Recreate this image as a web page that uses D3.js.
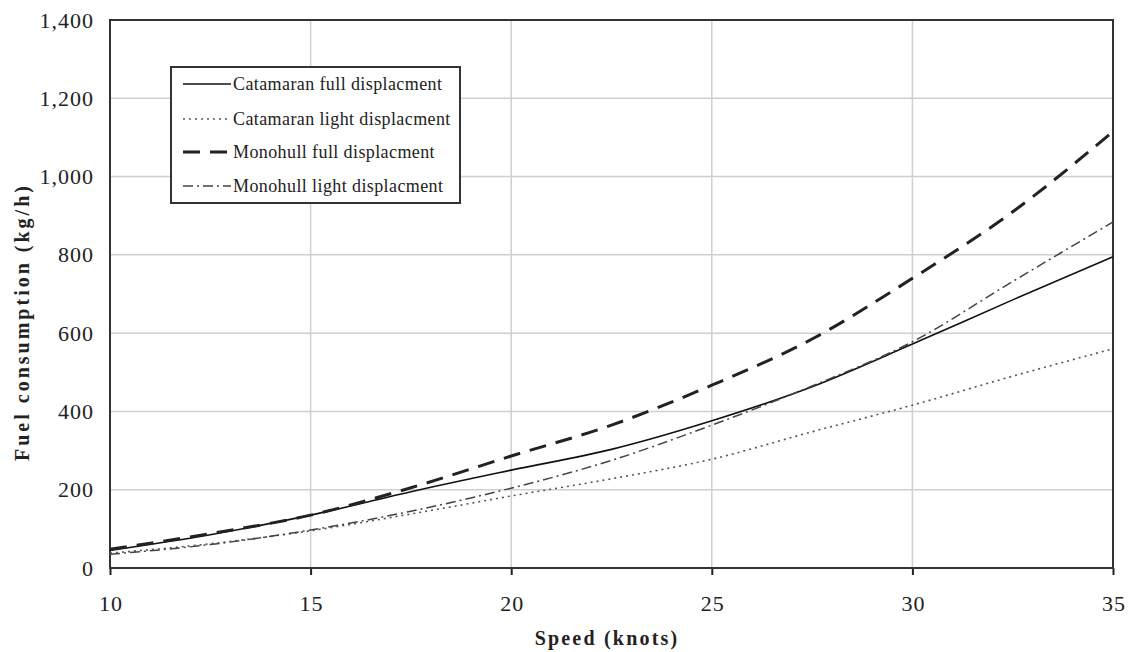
<!DOCTYPE html>
<html lang="en">
<head>
  <meta charset="UTF-8">
  <title>Fuel consumption</title>
  <style>
    body { margin: 0; background: #fff; }
    #main { width: 1130px; height: 652px; }
  </style>
</head>
<body>
  <div id="main"></div>
  <script src="https://d3js.org/d3.v7.min.js"></script>
  <script>
    // data (kg/h at each speed)
    const speeds = [10, 12.5, 15, 17.5, 20, 22.5, 25, 27.5, 30, 32.5, 35]
    const catFull = [45, 85, 135, 195, 250, 303, 376, 463, 572, 685, 795]
    const catLight = [38, 62, 95, 138, 184, 228, 278, 348, 416, 490, 560]
    const monoFull = [48, 88, 135, 205, 286, 365, 467, 585, 740, 910, 1115]
    const monoLight = [35, 60, 97, 145, 204, 275, 365, 465, 578, 732, 884]
    const seriesNames = ['Catamaran full displacment', 'Catamaran light displacment',
      'Monohull full displacment', 'Monohull light displacment']
    const xTicks = [10, 15, 20, 25, 30, 35]
    const yTicks = [0, 200, 400, 600, 800, 1000, 1200, 1400]

    const [width, height] = [1130, 652]
    const margin = { left: 110, right: 17, top: 20, bottom: 84 }
    const svg = d3.select('#main').append('svg')
      .attr('width', width)
      .attr('height', height)

    const x = d3.scaleLinear().domain([10, 35]).range([margin.left, width - margin.right])
    const y = d3.scaleLinear().domain([0, 1400]).range([height - margin.bottom, margin.top])

    const serif = '"Liberation Serif", "Times New Roman", serif'

    // grid
    svg.append('g').selectAll('line').data(yTicks.slice(1, -1)).join('line')
      .attr('x1', x(10)).attr('x2', x(35))
      .attr('y1', d => y(d)).attr('y2', d => y(d))
      .attr('stroke', '#cfcfcf').attr('stroke-width', 1.5)
    svg.append('g').selectAll('line').data(xTicks.slice(1, -1)).join('line')
      .attr('y1', y(0)).attr('y2', y(1400))
      .attr('x1', d => x(d)).attr('x2', d => x(d))
      .attr('stroke', '#cfcfcf').attr('stroke-width', 1.5)

    // axes
    const xAxis = svg.append('g')
      .attr('transform', `translate(0, ${y(0)})`)
      .call(d3.axisBottom(x).tickValues(xTicks).tickSize(7).tickPadding(20))
    xAxis.select('.domain').remove()
    xAxis.selectAll('line').attr('stroke', '#222').attr('stroke-width', 2)
    xAxis.selectAll('text')
      .attr('dx', '0.5px')
      .style('font-family', serif).style('font-size', '22px').style('letter-spacing', '1px')
      .attr('fill', '#222')

    const yAxis = svg.append('g')
      .attr('transform', `translate(${x(10)}, 0)`)
      .call(d3.axisLeft(y).tickValues(yTicks).tickSize(0).tickPadding(16).tickFormat(d3.format(',')))
    yAxis.select('.domain').remove()
    yAxis.selectAll('text')
      .style('font-family', serif).style('font-size', '22px').style('letter-spacing', '1px')
      .attr('fill', '#222')

    // frame
    svg.append('rect')
      .attr('x', x(10)).attr('y', y(1400))
      .attr('width', x(35) - x(10)).attr('height', y(0) - y(1400))
      .attr('fill', 'none').attr('stroke', '#333').attr('stroke-width', 2)

    // lines
    const styles = [
      { values: catFull, stroke: '#111', width: 1.6, dash: null },
      { values: catLight, stroke: '#555', width: 1.6, dash: '2,4' },
      { values: monoFull, stroke: '#222', width: 3, dash: '17,10' },
      { values: monoLight, stroke: '#444', width: 1.5, dash: '10,4,2,4' }
    ]
    const line = d3.line()
      .x((d, i) => x(speeds[i]))
      .y(d => y(d))
      .curve(d3.curveMonotoneX)
    svg.append('g').selectAll('path').data(styles).join('path')
      .attr('d', d => line(d.values))
      .attr('fill', 'none')
      .attr('stroke', d => d.stroke)
      .attr('stroke-width', d => d.width)
      .attr('stroke-dasharray', d => d.dash)

    // legend
    const legend = svg.append('g')
    legend.append('rect')
      .attr('x', 171).attr('y', 67).attr('width', 289).attr('height', 136)
      .attr('fill', '#fff').attr('stroke', '#333').attr('stroke-width', 2)
    const rowY = [84, 119, 152, 186]
    const rows = legend.selectAll('g.row').data(styles).join('g')
      .attr('class', 'row')
      .attr('transform', (d, i) => `translate(0, ${rowY[i]})`)
    rows.append('line')
      .attr('x1', 183).attr('x2', 231)
      .attr('stroke', d => d.stroke)
      .attr('stroke-width', d => d.width)
      .attr('stroke-dasharray', d => d.dash)
    rows.append('text')
      .attr('x', 233).attr('dy', '0.33em')
      .style('font-family', serif).style('font-size', '18px').style('letter-spacing', '0.4px')
      .attr('fill', '#222')
      .text((d, i) => seriesNames[i])

    // axis titles
    svg.append('text')
      .attr('transform', `translate(29, 322) rotate(-90)`)
      .attr('text-anchor', 'middle')
      .style('font-family', serif).style('font-size', '20px').style('font-weight', 'bold')
      .style('letter-spacing', '3px')
      .attr('fill', '#222')
      .text('Fuel consumption (kg/h)')
    svg.append('text')
      .attr('x', 607).attr('y', 645)
      .attr('text-anchor', 'middle')
      .style('font-family', serif).style('font-size', '20px').style('font-weight', 'bold')
      .style('letter-spacing', '2.2px')
      .attr('fill', '#222')
      .text('Speed (knots)')
  </script>
</body>
</html>
